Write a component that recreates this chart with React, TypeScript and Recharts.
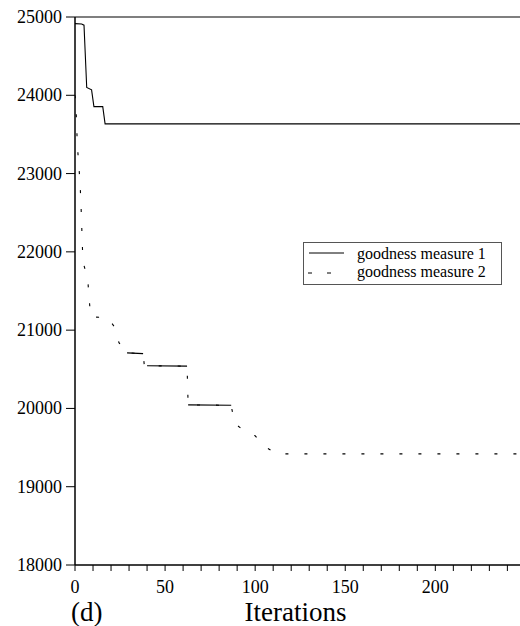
import React from 'react'
import { LineChart, Line, XAxis, YAxis, ReferenceLine } from 'recharts'

// goodness measure 1 (solid)
const iterations1 = [0, 3.7, 5, 6.5, 9.2, 10.5, 15.4, 16.7, 247]
const measure1 = [24915, 24910, 24895, 24100, 24070, 23855, 23855, 23635, 23635]

// goodness measure 2 (dashed)
const iterations2 = [
  0, 0.5, 1.3, 2.8, 3.3, 4.4, 7, 7.8, 8.7, 18, 22, 24.4, 28.9, 37.8, 38.5,
  62.2, 62.8, 86.7, 88.5, 95.4, 100, 105.6, 112, 247,
]
const measure2 = [
  24000, 23880, 23370, 22880, 22620, 21870, 21670, 21420, 21170, 21160, 21040, 20840, 20710, 20700, 20545,
  20540, 20045, 20040, 19810, 19690, 19650, 19510, 19420, 19420,
]
// the long plateaus of measure 2 print as unbroken strokes in the original
const plateauIterations = [28.9, 37.8, 38.2, 40, 62.2, 62.5, 62.8, 86.7]
const plateauValues = [20710, 20700, null, 20545, 20540, null, 20045, 20040]

const xTicks = [0, 10, 20, 30, 40, 50, 60, 70, 80, 90, 100, 110, 120, 130, 140, 150, 160, 170, 180, 190, 200, 210, 220, 230, 240]
const xLabelled = [0, 50, 100, 150, 200]
const yTicks = [18000, 19000, 20000, 21000, 22000, 23000, 24000, 25000]
const legendNames = ['goodness measure 1', 'goodness measure 2']

const series1 = iterations1.map((x, i) => ({ iteration: x, value: measure1[i] }))
const series2 = iterations2.map((x, i) => ({ iteration: x, value: measure2[i] }))
const plateaus = plateauIterations.map((x, i) => ({ iteration: x, value: plateauValues[i] }))

const font = '"Liberation Serif", "DejaVu Serif", serif'
const DASH = '3 16'

function XTick({ x, y, payload }: any) {
  if (!xLabelled.includes(payload.value)) return null
  return (
    <text x={x} y={y + 20} textAnchor="middle" fontFamily={font} fontSize={18} fill="#000">
      {payload.value}
    </text>
  )
}

function YTick({ y, payload }: any) {
  return (
    <text x={62} y={y + 6} textAnchor="end" fontFamily={font} fontSize={18} fill="#000">
      {payload.value}
    </text>
  )
}

function AxisTitle({ viewBox }: any) {
  const cx = viewBox.x + viewBox.width / 2
  return (
    <g fontFamily={font} fill="#000">
      <text x={71} y={621} fontSize={27}>(d)</text>
      <text x={cx - 2} y={621} textAnchor="middle" fontSize={27}>Iterations</text>
    </g>
  )
}

// legend box, drawn over the plot like the original
function LegendBox() {
  return (
    <div
      style={{
        position: 'absolute', left: 303, top: 242, width: 199, height: 43,
        border: '1px solid #555', boxSizing: 'border-box', background: '#fff',
      }}
    >
      <svg width={197} height={41} style={{ display: 'block' }}>
        <line x1={5} x2={40} y1={10} y2={10} stroke="#000" strokeWidth={1} />
        <line x1={4} x2={36} y1={30} y2={30} stroke="#000" strokeWidth={1} strokeDasharray="4 15" />
        <text x={53} y={16} fontFamily={font} fontSize={16} fill="#000">{legendNames[0]}</text>
        <text x={53} y={34} fontFamily={font} fontSize={16} fill="#000">{legendNames[1]}</text>
      </svg>
    </div>
  )
}

export default function App() {
  return (
    <div style={{ position: 'absolute', left: 0, top: 0, width: 520, height: 626, background: '#fff' }}>
      <LineChart width={520} height={626} margin={{ top: 17, right: 0, bottom: 0, left: 0 }}>
        <XAxis
          type="number"
          dataKey="iteration"
          domain={[0, 247]}
          allowDataOverflow
          ticks={xTicks}
          interval={0}
          height={61}
          tickSize={6}
          tickMargin={2}
          tick={<XTick />}
          axisLine={{ stroke: '#000', strokeWidth: 1.5 }}
          tickLine={{ stroke: '#000', strokeWidth: 1 }}
          label={<AxisTitle />}
        />
        <YAxis
          type="number"
          domain={[18000, 25000]}
          ticks={yTicks}
          interval={0}
          width={75}
          tickSize={9}
          tick={<YTick />}
          axisLine={{ stroke: '#000', strokeWidth: 1.5 }}
          tickLine={{ stroke: '#000', strokeWidth: 1 }}
        />
        <ReferenceLine y={25000} stroke="#000" strokeWidth={1.2} />
        <Line
          data={series1}
          dataKey="value"
          name={legendNames[0]}
          type="linear"
          stroke="#000"
          strokeWidth={1.1}
          dot={false}
          isAnimationActive={false}
        />
        <Line
          data={series2}
          dataKey="value"
          name={legendNames[1]}
          type="linear"
          stroke="#000"
          strokeWidth={1.1}
          strokeDasharray={DASH}
          dot={false}
          isAnimationActive={false}
        />
        <Line
          data={plateaus}
          dataKey="value"
          type="linear"
          stroke="#000"
          strokeWidth={1.1}
          connectNulls={false}
          dot={false}
          legendType="none"
          isAnimationActive={false}
        />
      </LineChart>
      <LegendBox />
    </div>
  )
}
